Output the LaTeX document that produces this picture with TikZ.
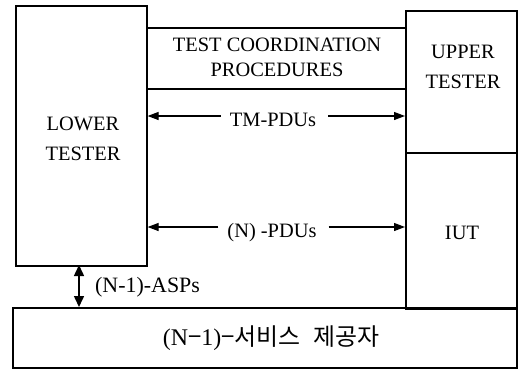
\documentclass[tikz,border=0pt]{standalone}
\usepackage{fontspec}
\setmainfont{Liberation Serif}
\newfontfamily\kofont{Noto Sans CJK KR}
\usetikzlibrary{arrows.meta}
\begin{document}
\begin{tikzpicture}[x=1bp,y=-1bp,
  box/.style={draw,line width=1.6bp,inner sep=0pt},
  lbl/.style={font=\fontsize{20.5}{24}\selectfont,align=center,inner sep=0pt},
  arr/.style={line width=1.2bp,-{Triangle[length=11bp,width=8bp]}}]
\useasboundingbox (0,0) rectangle (519,370);
% boxes
\node[box,minimum width=131bp,minimum height=260bp,anchor=north west] (lt) at (15,5) {};
\node[box,minimum width=111bp,minimum height=142bp,anchor=north west] (ut) at (405,10) {};
\node[box,minimum width=111bp,minimum height=156bp,anchor=north west] (iut) at (405,152) {};
\node[box,minimum width=259bp,minimum height=61bp,anchor=north west] (tcp) at (146,27) {};
\node[box,minimum width=504bp,minimum height=60bp,anchor=north west] (sp) at (12,307) {};
% texts
\node[lbl] (ltt) at (83,139) {LOWER\\[6bp]TESTER};
\node[lbl] (utt) at (463,67) {UPPER\\[6bp]TESTER};
\node[lbl] (iutt) at (462,233) {IUT};
\node[lbl] (tcpt) at (277,57) {TEST COORDINATION\\[1bp]PROCEDURES};
\node[lbl,font=\fontsize{24}{28}\selectfont] (spt) at (271,338) {(N{\kofont −}1){\kofont −서비스\hspace{0.3em} 제공자}};
\node[lbl] (tm) at (273,120) {TM-PDUs};
\node[lbl] (np) at (272,233) {(N) -PDUs};
\node[lbl,anchor=west,font=\fontsize{22}{26}\selectfont] (asp) at (95,287) {(N-1)-ASPs};
% arrow start points beside the labels
\coordinate (tmL) at ([xshift=-9bp,yshift=4bp]tm.west);
\coordinate (tmR) at ([xshift=12bp,yshift=4bp]tm.east);
\coordinate (npL) at ([xshift=-9bp,yshift=6bp]np.west);
\coordinate (npR) at ([xshift=12bp,yshift=6bp]np.east);
% arrows
\draw[arr] (tmL) -- (tmL -| lt.east);
\draw[arr] (tmR) -- (tmR -| ut.west);
\draw[arr] (npL) -- (npL -| lt.east);
\draw[arr] (npR) -- (npR -| iut.west);
\coordinate (a1) at (79,265);
\draw[line width=1.5bp,{Triangle[length=11bp,width=10bp]}-{Triangle[length=11bp,width=10bp]}] (a1) -- (a1 |- sp.north);
\end{tikzpicture}
\end{document}
